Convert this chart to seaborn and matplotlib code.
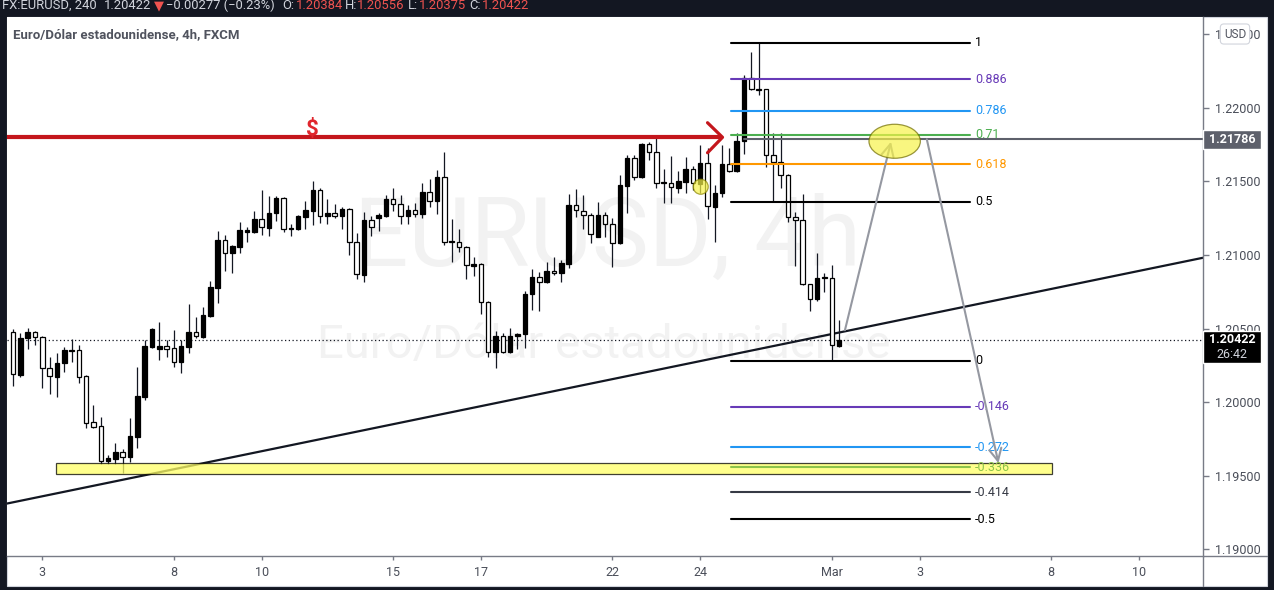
import numpy as np
import pandas as pd
import matplotlib.pyplot as plt
import matplotlib.patches as mpatches
from matplotlib.lines import Line2D
import seaborn as sns

# 4h bars, index 0 = Feb 3 00:00 (6 bars per trading day)
bar_idx = list(range(-4, 110))
opens = [1.20479, 1.20185, 1.20436, 1.20477, 1.20443, 1.20233, 1.20171, 1.20267, 1.20355, 1.20355,
         1.20178, 1.19866, 1.19839, 1.19601, 1.19614, 1.19662, 1.19628, 1.19764, 1.20035, 1.20375,
         1.20362, 1.20382, 1.20368, 1.20273, 1.20375, 1.20477, 1.20443, 1.20588, 1.20778, 1.21102,
         1.21015, 1.21056, 1.21158, 1.21158, 1.21244, 1.21185, 1.21285, 1.21387, 1.21176, 1.21176,
         1.21260, 1.21301, 1.21441, 1.21267, 1.21285, 1.21267, 1.21312, 1.21086, 1.20864, 1.21237,
         1.21249, 1.21267, 1.21380, 1.21346, 1.21267, 1.21305, 1.21278, 1.21430, 1.21369, 1.21527,
         1.21086, 1.21090, 1.21056, 1.20927, 1.20937, 1.20679, 1.20343, 1.20452, 1.20343, 1.20452,
         1.20461, 1.20733, 1.20852, 1.20819, 1.20891, 1.20876, 1.20939, 1.21339, 1.21301, 1.21271,
         1.21124, 1.21271, 1.21208, 1.21079, 1.21470, 1.21656, 1.21531, 1.21751, 1.21701, 1.21487,
         1.21487, 1.21457, 1.21493, 1.21582, 1.21482, 1.21622, 1.21328, 1.21419, 1.21616, 1.21572,
         1.21774, 1.22200, 1.22125, 1.22125, 1.21677, 1.21633, 1.21543, 1.21256, 1.21237, 1.20801,
         1.20699, 1.20842, 1.20845, 1.20384]
highs = [1.20497, 1.20470, 1.20504, 1.20484, 1.20450, 1.20307, 1.20334, 1.20375, 1.20429, 1.20389,
         1.20185, 1.19981, 1.19900, 1.19640, 1.19723, 1.19682, 1.19893, 1.20239, 1.20422, 1.20504,
         1.20545, 1.20422, 1.20491, 1.20422, 1.20667, 1.20579, 1.20647, 1.20823, 1.21163, 1.21136,
         1.21068, 1.21226, 1.21190, 1.21299, 1.21441, 1.21400, 1.21400, 1.21392, 1.21210, 1.21271,
         1.21369, 1.21502, 1.21455, 1.21380, 1.21346, 1.21328, 1.21320, 1.21149, 1.21294, 1.21265,
         1.21283, 1.21407, 1.21453, 1.21407, 1.21340, 1.21355, 1.21489, 1.21514, 1.21577, 1.21697,
         1.21242, 1.21176, 1.21060, 1.20984, 1.20945, 1.20690, 1.20484, 1.20470, 1.20502, 1.20472,
         1.20757, 1.20903, 1.20886, 1.20954, 1.20988, 1.20966, 1.21414, 1.21446, 1.21407, 1.21285,
         1.21362, 1.21294, 1.21249, 1.21543, 1.21679, 1.21679, 1.21762, 1.21769, 1.21792, 1.21582,
         1.21672, 1.21572, 1.21667, 1.21604, 1.21747, 1.21724, 1.21475, 1.21747, 1.21724, 1.21830,
         1.22222, 1.22380, 1.22441, 1.22130, 1.21830, 1.21826, 1.21550, 1.21294, 1.21414, 1.20805,
         1.21015, 1.20880, 1.20932, 1.20556]
lows = [1.20110, 1.20171, 1.20362, 1.20389, 1.20097, 1.20056, 1.20036, 1.20205, 1.20273, 1.20131,
        1.19825, 1.19825, 1.19581, 1.19581, 1.19581, 1.19520, 1.19594, 1.19689, 1.20015, 1.20368,
        1.20287, 1.20307, 1.20239, 1.20199, 1.20334, 1.20436, 1.20436, 1.20579, 1.20674, 1.20893,
        1.20880, 1.21015, 1.21090, 1.21151, 1.21136, 1.21129, 1.21233, 1.21158, 1.21129, 1.21169,
        1.21176, 1.21203, 1.21219, 1.21210, 1.21251, 1.21176, 1.21000, 1.20837, 1.20814, 1.21131,
        1.21165, 1.21256, 1.21301, 1.21208, 1.21210, 1.21256, 1.21249, 1.21324, 1.21278, 1.21068,
        1.20954, 1.21022, 1.20835, 1.20859, 1.20597, 1.20309, 1.20230, 1.20335, 1.20335, 1.20359,
        1.20366, 1.20626, 1.20622, 1.20808, 1.20864, 1.20819, 1.20910, 1.21260, 1.21174, 1.21079,
        1.21120, 1.21124, 1.20916, 1.21075, 1.21287, 1.21509, 1.21521, 1.21645, 1.21453, 1.21355,
        1.21355, 1.21423, 1.21423, 1.21441, 1.21423, 1.21242, 1.21090, 1.21396, 1.21565, 1.21565,
        1.21686, 1.22120, 1.22086, 1.21599, 1.21362, 1.21453, 1.21226, 1.20925, 1.20795, 1.20622,
        1.20690, 1.20750, 1.20282, 1.20375]
closes = [1.20192, 1.20436, 1.20477, 1.20443, 1.20233, 1.20178, 1.20267, 1.20355, 1.20350, 1.20171,
          1.19859, 1.19832, 1.19601, 1.19621, 1.19662, 1.19628, 1.19771, 1.20042, 1.20382, 1.20497,
          1.20382, 1.20362, 1.20273, 1.20382, 1.20477, 1.20450, 1.20592, 1.20785, 1.21102, 1.21015,
          1.21061, 1.21170, 1.21170, 1.21244, 1.21188, 1.21285, 1.21387, 1.21176, 1.21180, 1.21265,
          1.21305, 1.21441, 1.21267, 1.21285, 1.21267, 1.21312, 1.21086, 1.20869, 1.21237, 1.21188,
          1.21271, 1.21380, 1.21346, 1.21267, 1.21305, 1.21278, 1.21430, 1.21369, 1.21527, 1.21086,
          1.21095, 1.21056, 1.20932, 1.20939, 1.20679, 1.20339, 1.20452, 1.20343, 1.20452, 1.20463,
          1.20735, 1.20852, 1.20819, 1.20891, 1.20876, 1.20943, 1.21339, 1.21305, 1.21271, 1.21140,
          1.21271, 1.21208, 1.21079, 1.21475, 1.21656, 1.21531, 1.21754, 1.21701, 1.21487, 1.21490,
          1.21460, 1.21502, 1.21582, 1.21487, 1.21622, 1.21333, 1.21419, 1.21616, 1.21572, 1.21774,
          1.22200, 1.22125, 1.22122, 1.21677, 1.21633, 1.21543, 1.21256, 1.21237, 1.20801, 1.20699,
          1.20842, 1.20845, 1.20389, 1.20422]

date_ticks = [0, 18, 30, 48, 60, 78, 90, 108, 120, 138, 150]
date_labels = ["3", "8", "10", "15", "17", "22", "24", "Mar", "3", "8", "10"]
price_ticks = [1.190, 1.195, 1.200, 1.205, 1.210, 1.215, 1.220, 1.225]

# fibonacci retracement drawn from the swing high / low
fib_low = 1.20282
fib_high = 1.22441
fib_levels = [1, 0.886, 0.786, 0.71, 0.618, 0.5, 0, -0.146, -0.272, -0.336, -0.414, -0.5]
fib_names = ["1", "0.886", "0.786", "0.71", "0.618", "0.5", "0", "-0.146", "-0.272", "-0.336", "-0.414", "-0.5"]
fib_colors = ["#000000", "#673ab7", "#2196f3", "#4caf50", "#ff9800", "#000000", "#000000",
              "#673ab7", "#2196f3", "#8bc34a", "#363a45", "#000000"]
fib_start, fib_end = 94.2, 126.9

last_price = 1.20422
marked_price = 1.21786
resistance = 1.21799
trend_x = [-5.13, 158.75]
trend_y = [1.193078, 1.209803]
zone_x = [1.94, 138.1]
zone_y = [1.195115, 1.195842]
arrow_up = [(109.8, 1.20489), (116.1, 1.21769)]
arrow_down = [(121.0, 1.21785), (130.8, 1.19585)]

df = pd.DataFrame({"idx": bar_idx, "open": opens, "high": highs, "low": lows, "close": closes})
df["bull"] = df["close"] >= df["open"]

sns.set_theme(style="white")
plt.rcParams["font.family"] = ["Roboto", "DejaVu Sans"]

W, H = 1274, 590
fig = plt.figure(figsize=(W / 100, H / 100), dpi=100, facecolor="#131722")
fx = lambda px: px / W
fy = lambda py: 1 - py / H

# white chart panel inside the dark frame (behind the axes)
fig.patches.append(mpatches.Rectangle((fx(7), fy(586)), fx(1260), 569 / H, transform=fig.transFigure,
                                      facecolor="white", edgecolor="#d1d4dc", lw=0.8, zorder=-5))

ax = fig.add_axes([fx(7), fy(556), fx(1196), (556 - 17) / H])
ax.set_facecolor("white")
ax.set_xlim(-4.83, 158.78)
ax.set_ylim(1.189545, 1.226162)

# watermark
ax.text(fx(607), fy(240), "EURUSD, 4h", transform=fig.transFigure, ha="center", va="center",
        fontsize=69, color="#f2f2f2", zorder=0.5)
ax.text(fx(604), fy(345), "Euro/Dólar estadounidense", transform=fig.transFigure, ha="center", va="center",
        fontsize=34, color="#f2f2f2", zorder=0.5)

# trend line
sns.lineplot(x=trend_x, y=trend_y, ax=ax, color="#131722", lw=1.6, zorder=2)

# candles
ax.vlines(df["idx"], df["low"], df["high"], color="#131722", lw=0.9, zorder=3)
body_lo = np.minimum(df["open"], df["close"])
body_h = np.maximum((df["close"] - df["open"]).abs(), 0.00007)
ax.bar(df["idx"], body_h, bottom=body_lo, width=0.62,
       color=np.where(df["bull"], "#000000", "#ffffff"), edgecolor="#000000", linewidth=0.9, zorder=4)

# current price dotted line
ax.axhline(last_price, color="#131722", lw=0.9, ls=(0, (1, 2)), zorder=2)

# support zone
ax.add_patch(mpatches.Rectangle((zone_x[0], zone_y[0]), zone_x[1] - zone_x[0], zone_y[1] - zone_y[0],
                                facecolor="#ffff66", edgecolor="#000000", lw=0.9, alpha=0.75, zorder=5))

# fib levels
for lvl, name, col in zip(fib_levels, fib_names, fib_colors):
    price = fib_low + lvl * (fib_high - fib_low)
    ax.plot([fib_start, fib_end], [price, price], color=col, lw=1.5, zorder=5)
    ax.text(fib_end + 0.7, price, name, color=col, fontsize=9, ha="left", va="center", zorder=6)

# red resistance arrow
ax.plot([-6, 92.9], [resistance, resistance], color="#c4161c", lw=3, zorder=6, solid_capstyle="butt")
ax.plot([91.0, 93.05, 91.0], [resistance + 0.00099, resistance, resistance - 0.00105],
        color="#c4161c", lw=2.3, zorder=6)
ax.text(37.0, 1.21850, "$", color="#e0262d", fontsize=16, fontweight="bold", ha="center", va="center", zorder=6)

# marked price ray
ax.plot([96, 170], [marked_price, marked_price], color="#5d606b", lw=1.5, zorder=6)

# projected path arrows
for (x0, y0), (x1, y1) in [arrow_up, arrow_down]:
    ax.annotate("", xy=(x1, y1), xytext=(x0, y0),
                arrowprops=dict(arrowstyle="->", color="#9598a1", lw=1.5, mutation_scale=22,
                                shrinkA=0, shrinkB=0), zorder=7)

ax.add_patch(mpatches.Ellipse((116.6, 1.21772), 7.03, 0.00231, facecolor="#f7f34a", alpha=0.7,
                              edgecolor="#6e6a00", lw=0.9, zorder=8))
ax.add_patch(mpatches.Ellipse((90.07, 1.21463), 2.05, 0.00102, facecolor="#f7f34a", alpha=0.7,
                              edgecolor="#8a8400", lw=0.9, zorder=8))

# axes styling
for side in ["left", "top"]:
    ax.spines[side].set_visible(False)
for side in ["right", "bottom"]:
    ax.spines[side].set_color("#787b86")
    ax.spines[side].set_linewidth(1)
ax.yaxis.tick_right()
ax.set_yticks(price_ticks)
ax.set_yticklabels([f"{p:.5f}" for p in price_ticks])
ax.set_xticks(date_ticks)
ax.set_xticklabels(date_labels)
ax.tick_params(axis="y", right=True, left=False, length=4, width=1, color="#787b86", pad=5,
               labelsize=9, labelcolor="#4a4e59")
ax.tick_params(axis="x", bottom=True, length=3, width=1, color="#787b86", pad=4,
               labelsize=9, labelcolor="#4a4e59")
ax.grid(False)

# price axis labels
ytr = ax.get_yaxis_transform()
bw = 58 / 1196
px_per_unit = 14720
ax.add_patch(mpatches.Rectangle((1.0, marked_price - 9.5 / px_per_unit), bw, 19 / px_per_unit,
                                transform=ytr, facecolor="#5d606b", clip_on=False, zorder=10))
ax.text(1.0 + bw / 2, marked_price, f"{marked_price:.5f}", transform=ytr, color="white", fontsize=9,
        fontweight="bold", ha="center", va="center", clip_on=False, zorder=11)
ax.add_patch(mpatches.Rectangle((1.0, last_price - 23 / px_per_unit), bw, 32 / px_per_unit,
                                transform=ytr, facecolor="#000000", clip_on=False, zorder=10))
ax.text(1.0 + bw / 2, last_price, f"{last_price:.5f}", transform=ytr, color="white", fontsize=9,
        fontweight="bold", ha="center", va="center", clip_on=False, zorder=11)
ax.text(1.0 + bw / 2, last_price - 15 / px_per_unit, "26:42", transform=ytr, color="#d1d4dc", fontsize=9,
        ha="center", va="center", clip_on=False, zorder=11)

# axis line extensions into the price scale corner
fig.add_artist(Line2D([fx(1203), fx(1267)], [fy(556), fy(556)], color="#787b86", lw=1))
fig.add_artist(Line2D([fx(1203), fx(1203)], [fy(556), fy(586)], color="#787b86", lw=1))

fig.text(fx(1235), fy(34), "USD", fontsize=8.5, color="#50535e", ha="center", va="center",
         bbox=dict(boxstyle="round,pad=0.3,rounding_size=0.3", facecolor="white", edgecolor="#d1d4dc", lw=0.8))

# chart title
fig.text(fx(13), fy(35), "Euro/Dólar estadounidense, 4h, FXCM", fontsize=9.5, fontweight="bold",
         color="#50535e", ha="left", va="center")

# header bar (cut off at the top like the screenshot)
header = [(2, "FX:EURUSD, 240", "#d1d4dc"), (104, "1.20422", "#d1d4dc"), (154, "▼", "#ef5350"),
          (166, "−0.00277 (−0.23%)", "#d1d4dc"), (282, "O:", "#d1d4dc"), (296, "1.20384", "#ef5350"),
          (345, "H:", "#d1d4dc"), (357, "1.20556", "#ef5350"), (408, "L:", "#d1d4dc"),
          (419, "1.20375", "#ef5350"), (469, "C:", "#d1d4dc"), (482, "1.20422", "#ef5350")]
for x, s, col in header:
    fig.text(fx(x), fy(9), s, fontsize=9.4, color=col, ha="left", va="baseline")

fig.savefig("out.png", dpi=100, facecolor=fig.get_facecolor())
